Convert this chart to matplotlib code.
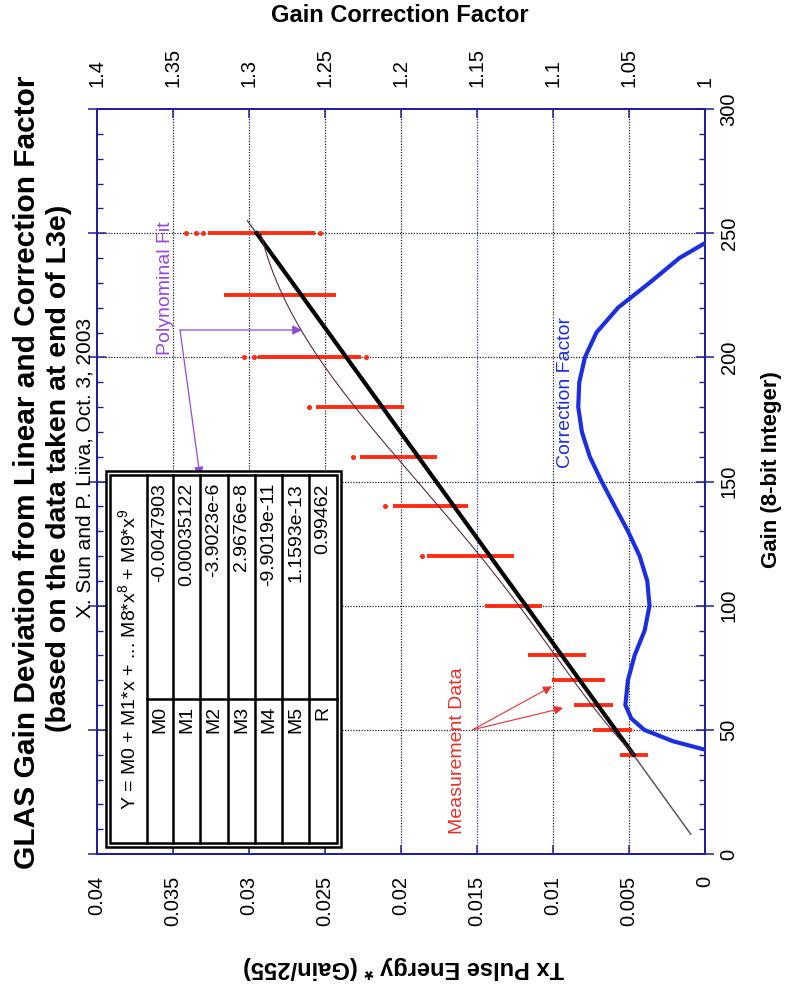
import numpy as np
import matplotlib
matplotlib.use("Agg")
import matplotlib.pyplot as plt
from matplotlib.transforms import Affine2D
from matplotlib.lines import Line2D
from matplotlib.patches import Rectangle

plt.rcParams["font.family"] = ["Liberation Sans", "DejaVu Sans"]
plt.rcParams["mathtext.fontset"] = "custom"
plt.rcParams["mathtext.rm"] = "Liberation Sans"
plt.rcParams["mathtext.default"] = "regular"

# ---------------- data ----------------
# measured Tx pulse energy ranges at each gain setting
meas_gain = [40, 50, 60, 70, 80, 100, 120, 140, 160, 180, 200, 225, 250]
meas_low = [0.00377, 0.00478, 0.00607, 0.00658, 0.00785, 0.0107, 0.01254,
            0.01557, 0.01765, 0.0198, 0.0226, 0.0243, 0.02568]
meas_high = [0.00559, 0.00735, 0.00862, 0.01004, 0.01162, 0.01445, 0.0183,
             0.0205, 0.0227, 0.0256, 0.0294, 0.03167, 0.0327]
# isolated samples beyond the solid ranges
dot_gain = [120, 140, 160, 180, 200, 200, 200, 250, 250, 250, 250]
dot_energy = [0.01864, 0.02105, 0.02316, 0.02605, 0.03035, 0.02969, 0.02228,
              0.03412, 0.03346, 0.03303, 0.02535]

# straight-line reference through the data
linear_gain = [8, 255]
linear_energy = [0.00094, 0.0301]
fit_gain = [40, 250]
fit_energy = [0.0047, 0.0295]

# polynomial fit table
poly_names = ["M0", "M1", "M2", "M3", "M4", "M5", "R"]
poly_values = ["-0.0047903", "0.00035122", "-3.9023e-6", "2.9676e-8",
               "-9.9019e-11", "1.1593e-13", "0.99462"]
poly_gain_range = (40, 250)

# gain correction factor curve
cf_gain = [42, 45.4, 50, 54.6, 60, 70, 80, 90, 100, 110, 120, 130, 140, 150,
           160, 170, 180, 190, 200, 210, 220, 230, 240, 246]
cf_value = [1.0, 1.021, 1.040, 1.0485, 1.0524, 1.0507, 1.0463, 1.0397, 1.0365,
            1.038, 1.043, 1.0507, 1.0594, 1.068, 1.0758, 1.081, 1.0834, 1.0827,
            1.079, 1.0714, 1.0572, 1.0365, 1.0168, 1.0]

energy_ticks = [0, 0.005, 0.01, 0.015, 0.02, 0.025, 0.03, 0.035, 0.04]
energy_labels = ["0", "0.005", "0.01", "0.015", "0.02", "0.025", "0.03", "0.035", "0.04"]
cf_ticks = [1.0, 1.05, 1.1, 1.15, 1.2, 1.25, 1.3, 1.35, 1.4]
cf_labels = ["1", "1.05", "1.1", "1.15", "1.2", "1.25", "1.3", "1.35", "1.4"]
gain_ticks = [0, 50, 100, 150, 200, 250, 300]
gain_labels = ["0", "50", "100", "150", "200", "250", "300"]

# ---------------- styling ----------------
W, H = 790, 994
NAVY = "#1f1f9e"
RED = "#ff2a12"
BLUE = "#1c2fe0"
PURPLE = "#9848d8"
TICK_FS = 14.5

fig = plt.figure(figsize=(W / 100, H / 100), dpi=100)
pix = Affine2D().scale(1 / W, -1 / H).translate(0, 1) + fig.transFigure

ax = fig.add_axes([97 / W, 1 - 854 / H, 608 / W, 745 / H])
ax.set_xlim(0.04, 0.0)
ax.set_ylim(0, 300)

for s in ax.spines.values():
    s.set_color(NAVY)
    s.set_linewidth(1.3)

# grid
for v in energy_ticks[1:-1]:
    ax.axvline(v, color=(BLUE if abs(v - 0.015) < 1e-9 else "#222222"),
               ls=(0, (1, 1.2)), lw=0.9, zorder=1)
for g in gain_ticks[1:-1]:
    ax.axhline(g, color="#222222", ls=(0, (1, 1.2)), lw=0.9, zorder=1)

# measurement ranges
ax.hlines(meas_gain, meas_low, meas_high, colors=RED, lw=2.8, zorder=3)
ax.plot(dot_energy, dot_gain, ls="none", marker="o", ms=2.6, color=RED, zorder=3)

# linear reference and fit lines
ax.plot(linear_energy, linear_gain, color="#5a5a5a", lw=1.1, zorder=4)
ax.plot(fit_energy, fit_gain, color="black", lw=3.0, zorder=5)
coeffs = [float(v) for v in poly_values[:6]]
gg = np.linspace(poly_gain_range[0], poly_gain_range[1], 200)
ax.plot(np.polyval(coeffs[::-1], gg), gg, color="#5b2a48", lw=0.8, zorder=6)

# ticks
ax.set_xticks(energy_ticks)
ax.set_xticklabels(energy_labels)
ax.set_yticks(gain_ticks)
ax.set_yticklabels(gain_labels)
ax.set_yticks(np.arange(0, 301, 10), minor=True)
ax.tick_params(axis="x", which="major", direction="in", length=6.5, width=1.1,
               color=NAVY, labelsize=TICK_FS, labelrotation=90, pad=16, top=False)
ax.tick_params(axis="y", which="major", direction="inout", length=13, width=1.1,
               color=NAVY, left=True, right=True, labelleft=False, labelright=True,
               labelsize=TICK_FS, labelrotation=90, pad=4)
ax.tick_params(axis="y", which="minor", direction="in", length=4.5, width=1.0,
               color=NAVY, left=True, right=True)
for lbl in ax.get_yticklabels():
    lbl.set_va("center")

# correction factor axis on top
ax2 = ax.twiny()
ax2.set_xlim(1.4, 1.0)
ax2.set_xticks(cf_ticks)
ax2.set_xticklabels(cf_labels)
ax2.tick_params(axis="x", direction="in", length=6.5, width=1.1, color=NAVY,
                labelsize=TICK_FS, labelrotation=90, pad=16)
for s in ax2.spines.values():
    s.set_color(NAVY)
    s.set_linewidth(1.3)
ax2.plot(cf_value, cf_gain, color=BLUE, lw=3.0, solid_capstyle="round", zorder=7)

# annotations
ax.text(0.0355, 228, "Polynominal Fit", color=PURPLE, fontsize=14, rotation=90,
        ha="center", va="center")
arrow_kw = dict(arrowstyle="-|>", color=PURPLE, lw=0.9, mutation_scale=14,
                shrinkA=0, shrinkB=0)
ax.annotate("", xy=(0.02651, 211), xytext=(0.03454, 211), arrowprops=arrow_kw)
ax.annotate("", xy=(0.03322, 152), xytext=(0.03454, 211), arrowprops=arrow_kw)

ax.text(0.0163, 41.5, "Measurement Data", color="#e8302a", fontsize=14,
        rotation=90, ha="center", va="center")
red_kw = dict(arrowstyle="-|>", color="#e8302a", lw=0.8, mutation_scale=13,
              shrinkA=0, shrinkB=0)
ax.annotate("", xy=(0.01007, 67.5), xytext=(0.0153, 50.0), arrowprops=red_kw)
ax.annotate("", xy=(0.00934, 58.8), xytext=(0.0153, 50.0), arrowprops=red_kw)

ax2.text(1.0921, 186, "Correction Factor", color=BLUE, fontsize=14, rotation=90,
         ha="center", va="center")

# fit coefficient table (drawn in pixel space)
for (x0, y0, x1, y1) in [(106, 471, 341, 847), (110, 475, 337, 843)]:
    fig.add_artist(Rectangle((x0, y0), x1 - x0, y1 - y0, transform=pix,
                             fill=(x0 == 106), facecolor="white",
                             edgecolor="black", lw=1.8, zorder=8))
row_edges = [147, 173, 200, 228, 255, 282, 309, 337]
for xe in row_edges[:-1]:
    fig.add_artist(Line2D([xe, xe], [475, 843], transform=pix, color="black",
                          lw=1.8, zorder=9))
fig.add_artist(Line2D([147, 337], [699, 699], transform=pix, color="black",
                      lw=1.8, zorder=9))
fig.text(128, 659, r"Y = M0 + M1*x + ... M8*x$^8$ + M9*x$^9$", transform=pix,
         fontsize=14, rotation=90, ha="center", va="center", zorder=10)
for i, (name, val) in enumerate(zip(poly_names, poly_values)):
    xc = (row_edges[i] + row_edges[i + 1]) / 2
    fig.text(xc, 706, name, transform=pix, fontsize=14, rotation=90,
             ha="center", va="top", zorder=10)
    fig.text(xc, 483, val, transform=pix, fontsize=14, rotation=90,
             ha="center", va="top", zorder=10)

# titles and axis labels
fig.text(27, 472, "GLAS Gain Deviation from Linear and Correction Factor",
         transform=pix, fontsize=21.5, fontweight="bold", rotation=90,
         ha="center", va="center")
fig.text(59, 468, "(based on the data taken at end of L3e)", transform=pix,
         fontsize=20.5, fontweight="bold", rotation=90, ha="center", va="center")
fig.text(85, 468, "X. Sun and P. Liiva, Oct. 3, 2003", transform=pix,
         fontsize=15, rotation=90, ha="center", va="center")
fig.text(400, 16, "Gain Correction Factor", transform=pix, fontsize=17,
         fontweight="bold", ha="center", va="center")
fig.text(404, 968, "Tx Pulse Energy * (Gain/255)", transform=pix, fontsize=17,
         fontweight="bold", rotation=180, ha="center", va="center")
fig.text(772, 470, "Gain (8-bit Integer)", transform=pix, fontsize=16,
         fontweight="bold", rotation=90, ha="center", va="center")

fig.savefig("out.png", dpi=100, facecolor="white")
